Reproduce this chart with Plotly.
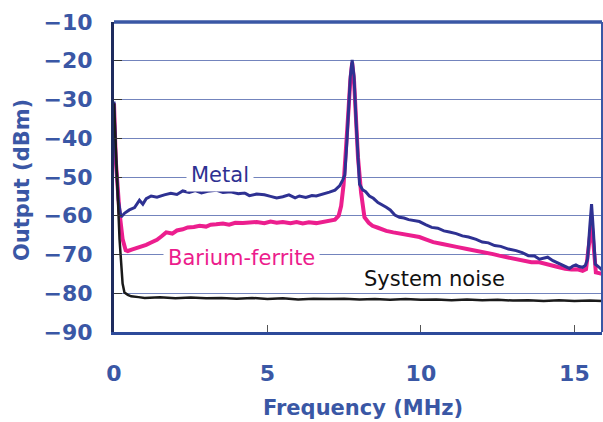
import plotly.graph_objects as go

# ---- data ----
metal_x = [0, 0.06, 0.14, 0.23, 0.35, 0.5, 0.67, 0.78, 0.83, 0.94, 1.05, 1.21, 1.4, 1.64, 1.85, 2.05,
           2.24, 2.45, 2.65, 2.85, 3.05, 3.33, 3.55, 3.8, 4.05, 4.25, 4.41, 4.65, 4.9, 5.1, 5.3, 5.5,
           5.7, 5.9, 6.04, 6.25, 6.45, 6.59, 6.8, 7.02, 7.2, 7.35, 7.45, 7.52, 7.58, 7.64, 7.7, 7.76,
           7.82, 7.89, 7.95, 8.0, 8.1, 8.2, 8.32, 8.45, 8.6, 8.75, 8.87, 9.0, 9.15, 9.3, 9.45, 9.6,
           9.8, 9.95, 10.15, 10.35, 10.55, 10.75, 10.93, 11.15, 11.35, 11.55, 11.8, 12.0, 12.2, 12.4,
           12.6, 12.85, 13.1, 13.3, 13.5, 13.7, 13.86, 14.0, 14.13, 14.3, 14.5, 14.7, 14.84, 14.95,
           15.05, 15.15, 15.27, 15.36, 15.43, 15.5, 15.56, 15.62, 15.68, 15.81, 15.9]
metal_y = [-30.5, -45, -56, -60.3, -59.3, -58.5, -57.9, -56.8, -56.0, -57.0, -55.6, -54.9, -55.2, -54.6,
           -54.2, -54.5, -53.6, -54.0, -53.5, -54.1, -53.7, -53.4, -54.0, -53.8, -54.3, -54.1, -54.8,
           -54.4, -54.6, -55.0, -55.4, -55.1, -54.6, -55.4, -54.9, -55.3, -54.8, -54.9, -54.5, -53.9,
           -53.4, -52.3, -50.8, -49.5, -42, -33, -24, -19.8, -24, -36, -47, -51.9, -53.3, -53.8, -54.9,
           -55.5, -56.6, -57.2, -57.8, -58.5, -59.8, -60.4, -60.6, -61.0, -61.2, -61.5, -62.3, -63.0,
           -63.2, -63.9, -64.2, -64.6, -65.2, -65.5, -66.1, -66.8, -67.0, -67.7, -67.9, -68.6, -69.0,
           -69.5, -70.3, -70.4, -71.2, -70.9, -70.7, -71.6, -72.4, -73.0, -73.6, -73.0, -72.7, -73.1,
           -73.3, -72.8, -71.2, -63, -57.0, -64, -72.5, -73.3, -74]

ferrite_x = [0, 0.06, 0.18, 0.28, 0.38, 0.45, 0.6, 0.78, 0.95, 1.05, 1.21, 1.4, 1.55, 1.7, 1.9, 2.05,
             2.24, 2.4, 2.6, 2.79, 3.0, 3.15, 3.33, 3.55, 3.75, 3.95, 4.2, 4.41, 4.65, 4.9, 5.1, 5.3,
             5.5, 5.75, 5.95, 6.15, 6.35, 6.59, 6.8, 7.02, 7.2, 7.32, 7.4, 7.48, 7.56, 7.63, 7.7, 7.76,
             7.82, 7.88, 7.95, 8.05, 8.16, 8.3, 8.42, 8.6, 8.75, 8.87, 9.1, 9.4, 9.65, 9.95, 10.2, 10.4,
             10.7, 10.95, 11.2, 11.5, 11.8, 12.1, 12.35, 12.55, 12.8, 13.05, 13.3, 13.6, 13.86, 14.1,
             14.4, 14.7, 14.9, 15.1, 15.27, 15.38, 15.46, 15.56, 15.63, 15.7, 15.8, 15.9]
ferrite_y = [-31, -46, -59.2, -66, -68.9, -69.1, -68.7, -68.2, -67.9, -67.5, -66.9, -66.2, -65.3, -64.3,
             -64.6, -63.8, -63.5, -63.0, -62.9, -62.6, -62.8, -62.3, -62.2, -62.0, -62.3, -61.8, -61.9,
             -61.8, -61.6, -61.9, -61.5, -61.8, -61.6, -61.9, -61.6, -62.0, -61.7, -61.9, -61.6, -61.3,
             -61.0, -60.0, -57.5, -52, -44, -34, -25, -20.5, -25, -35, -45, -54, -60.4, -61.8, -62.6,
             -63.1, -63.6, -63.9, -64.3, -64.8, -65.0, -65.5, -66.2, -66.8, -67.3, -67.6, -68.1, -68.6,
             -69.0, -69.5, -69.9, -70.3, -70.7, -71.0, -71.4, -72.0, -72.0, -72.6, -73.1, -73.7, -73.9,
             -73.8, -74.2, -73.8, -69, -61.8, -68, -74.6, -74.8, -75]

noise_x = [0, 0.08, 0.18, 0.28, 0.34, 0.45, 0.56, 0.8, 1.0, 1.5, 2.0, 2.5, 3.0, 3.5, 4.0, 4.5, 5.0, 5.5,
           6.0, 6.5, 7.0, 7.5, 8.0, 8.5, 9.0, 9.5, 10.0, 10.5, 11.0, 11.5, 12.0, 12.5, 13.0, 13.5, 14.0,
           14.5, 15.0, 15.5, 15.9]
noise_y = [-31, -48, -66, -77.5, -79.8, -80.4, -80.8, -81.0, -81.2, -81.0, -81.3, -81.1, -81.3, -81.2,
           -81.4, -81.2, -81.5, -81.3, -81.6, -81.4, -81.5, -81.4, -81.6, -81.5, -81.7, -81.5, -81.7,
           -81.6, -81.8, -81.6, -81.8, -81.7, -81.9, -81.8, -82.0, -81.8, -82.0, -81.9, -82.0]

x_ticks = [0, 5, 10, 15]
y_ticks = [-90, -80, -70, -60, -50, -40, -30, -20, -10]

BLUE = "#3a57a5"

fig = go.Figure()
fig.add_trace(go.Scatter(x=ferrite_x, y=ferrite_y, mode="lines",
                         line=dict(color="#ec1e8e", width=4), name="Barium-ferrite"))
fig.add_trace(go.Scatter(x=metal_x, y=metal_y, mode="lines",
                         line=dict(color="#2e3192", width=3), name="Metal"))
fig.add_trace(go.Scatter(x=noise_x, y=noise_y, mode="lines",
                         line=dict(color="#1a1a1a", width=2.5), name="System noise"))

fig.update_layout(
    width=603, height=422,
    margin=dict(l=114, r=1, t=22, b=90),
    paper_bgcolor="white", plot_bgcolor="white",
    showlegend=False,
    font=dict(family="DejaVu Sans"),
)
fig.update_xaxes(
    range=[0, 15.9], tickvals=x_ticks, ticks="inside", ticklen=7, tickcolor="#555",
    tickfont=dict(family="DejaVu Sans", size=22, color=BLUE, weight="bold"),
    ticklabelstandoff=20,
    showgrid=False, zeroline=False,
    showline=True, linecolor="#2d4a9a", linewidth=2.5,
)
fig.update_yaxes(
    range=[-90, -10], tickvals=y_ticks, ticks="inside", ticklen=8, tickcolor="#333",
    tickfont=dict(family="DejaVu Sans", size=22, color=BLUE, weight="bold"),
    ticklabelstandoff=14,
    showgrid=True, gridcolor="#7384bd", gridwidth=1.3, zeroline=False,
    showline=True, linecolor="#1e2b5e", linewidth=3,
)
# frame (top and right)
fig.add_shape(type="line", xref="paper", yref="paper", x0=0, x1=1, y0=1, y1=1,
              line=dict(color=BLUE, width=3.5))
fig.add_shape(type="line", xref="paper", yref="paper", x0=1, x1=1, y0=0, y1=1,
              line=dict(color=BLUE, width=2))

# series labels
fig.add_annotation(x=3.44, y=-49.5, text="Metal", showarrow=False, bgcolor="white", borderpad=4,
                   font=dict(family="DejaVu Sans", size=21, color="#2e3192"))
fig.add_annotation(x=4.16, y=-70.9, text="Barium-ferrite", showarrow=False, bgcolor="white", borderpad=4,
                   font=dict(family="DejaVu Sans", size=21, color="#ec1c8c"))
fig.add_annotation(x=10.45, y=-76.3, text="System noise", showarrow=False,
                   font=dict(family="DejaVu Sans", size=21, color="#111111"))

# axis titles
fig.add_annotation(xref="paper", yref="paper", x=0.51, y=-0.245, text="Frequency (MHz)",
                   showarrow=False, xanchor="center", yanchor="middle",
                   font=dict(family="DejaVu Sans", size=21, color=BLUE, weight="bold"))
fig.add_annotation(xref="paper", yref="paper", x=-0.1885, y=0.49, text="Output (dBm)",
                   showarrow=False, xanchor="center", yanchor="middle", textangle=-90,
                   font=dict(family="DejaVu Sans", size=21, color=BLUE, weight="bold"))

fig.write_html("out.html")
